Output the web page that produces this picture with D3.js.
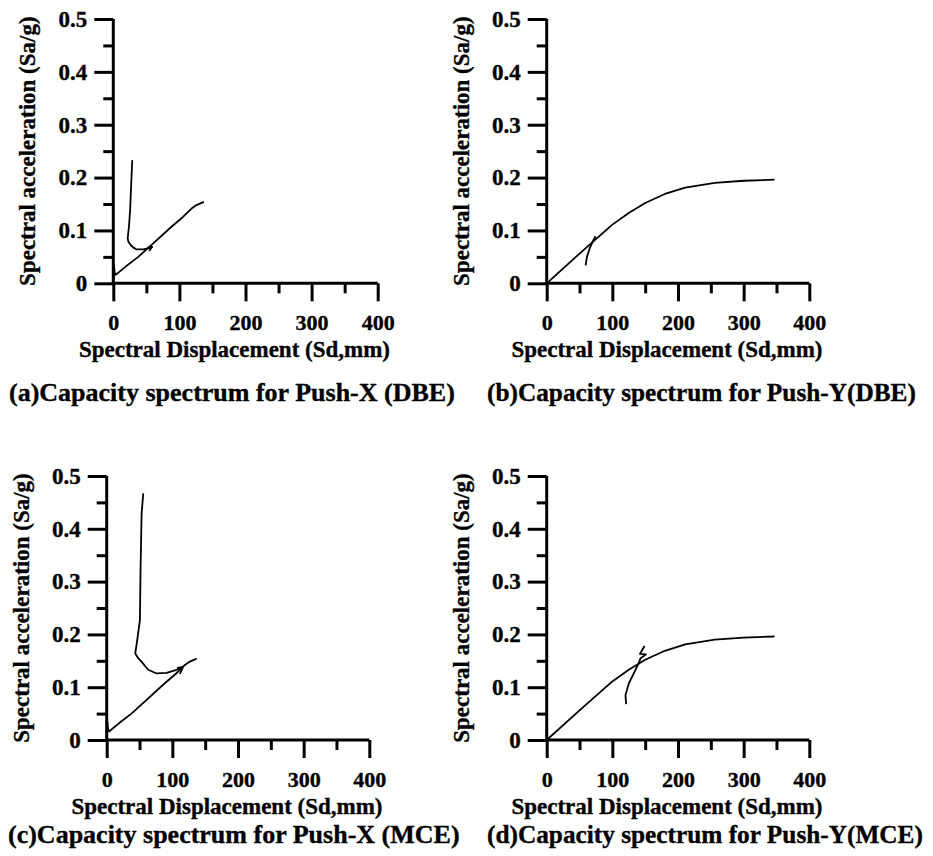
<!DOCTYPE html>
<html><head><meta charset="utf-8">
<script src="https://cdn.jsdelivr.net/npm/d3@7"></script>
<style>
html,body{margin:0;padding:0;background:#fff;}
svg text{font-family:"Liberation Serif","Times New Roman",serif;font-weight:bold;fill:#000;stroke:#000;stroke-width:0.35px;}
</style></head>
<body>
<svg id="chart" width="933" height="856"></svg>
<script>
// ---- data ----
const xTicks = [0, 100, 200, 300, 400];
const xMinor = [50, 150, 250, 350];
const yTicks = [0, 0.1, 0.2, 0.3, 0.4, 0.5];
const yMinor = [0.05, 0.15, 0.25, 0.35, 0.45];
const yTickLabels = ["0", "0.1", "0.2", "0.3", "0.4", "0.5"];

// capacity curve, Push-X (panels a, c)
const capXSd = [0, 1.2, 1.8, 3.6, 20, 37.7, 60, 88, 105, 118, 125.8, 137];
const capXSa = [0, 0.034, 0.022, 0.016, 0.033, 0.05, 0.075, 0.107, 0.125, 0.141, 0.148, 0.154];
// capacity curve, Push-Y (panels b, d)
const capYSd = [0, 50, 100, 125, 150, 180, 211, 256, 300, 347];
const capYSa = [0, 0.056, 0.111, 0.133, 0.152, 0.169, 0.181, 0.190, 0.194, 0.196];

// demand curves
const demASd = [28.7, 27.5, 26.7, 25.5, 23.7, 21.7, 23, 26.7, 30, 35.3, 45.2, 55.4, 58.8];
const demASa = [0.233, 0.2, 0.176, 0.14, 0.107, 0.085, 0.078, 0.072, 0.068, 0.064, 0.064, 0.067, 0.069];
const arrASd = [52, 58.8, 54.3];
const arrASa = [0.068, 0.069, 0.061];

const demBSd = [59.3, 61.3, 65.4, 70.4, 74.5];
const demBSa = [0.034, 0.05, 0.066, 0.080, 0.089];

const demCSd = [55.7, 53.2, 51.7, 50.6, 46.5, 43.5, 48, 53.2, 63.2, 76, 91.2, 106.4, 116.5];
const demCSa = [0.467, 0.429, 0.334, 0.227, 0.189, 0.164, 0.155, 0.148, 0.133, 0.126, 0.127, 0.133, 0.138];
const arrCSd = [107, 116.5, 111.5];
const arrCSa = [0.136, 0.139, 0.125];

const demDSd = [121, 120, 125, 133.8, 140, 143, 151, 142, 149];
const demDSa = [0.068, 0.085, 0.107, 0.129, 0.145, 0.155, 0.162, 0.163, 0.178];

const captions = [
  "(a)Capacity spectrum for Push-X (DBE)",
  "(b)Capacity spectrum for Push-Y(DBE)",
  "(c)Capacity spectrum for Push-X (MCE)",
  "(d)Capacity spectrum for Push-Y(MCE)"
];
const xTitle = "Spectral Displacement (Sd,mm)";
const yTitle = "Spectral acceleration (Sa/g)";

// ---- layout ----
const zip = (a, b) => a.map((v, i) => [v, b[i]]);
const panels = [
  {x0: 113.3, x1: 377.7, y0: 283.3, y1: 19, cap: captions[0], capX: 9, capY: 401, capF: 26,
   series: [zip(capXSd, capXSa), zip(demASd, demASa), zip(arrASd, arrASa)]},
  {x0: 546.7, x1: 809.3, y0: 283.3, y1: 19, cap: captions[1], capX: 487, capY: 401, capF: 25.3,
   series: [zip(capYSd, capYSa), zip(demBSd, demBSa)]},
  {x0: 106.7, x1: 369.3, y0: 740, y1: 476, cap: captions[2], capX: 8, capY: 843, capF: 26,
   series: [zip(capXSd, capXSa), zip(demCSd, demCSa), zip(arrCSd, arrCSa)]},
  {x0: 546.7, x1: 809.3, y0: 740, y1: 476, cap: captions[3], capX: 487, capY: 843, capF: 25.3,
   series: [zip(capYSd, capYSa), zip(demDSd, demDSa)]}
];

const svg = d3.select("#chart");

panels.forEach(p => {
  const x = d3.scaleLinear().domain([0, 400]).range([p.x0, p.x1]);
  const y = d3.scaleLinear().domain([0, 0.5]).range([p.y0, p.y1]);
  const g = svg.append("g");

  // x axis
  const xAx = g.append("g").attr("transform", `translate(0,${p.y0})`)
    .call(d3.axisBottom(x).tickValues(xTicks).tickSize(18).tickSizeOuter(0).tickPadding(10));
  xAx.select(".domain").attr("stroke-width", 3).attr("d", `M${p.x0},0H${p.x1}`);
  xAx.selectAll(".tick line").attr("stroke-width", 3);
  xAx.selectAll(".tick text").attr("font-size", 22).attr("dy", "0").attr("y", 47);
  g.append("g").attr("transform", `translate(0,${p.y0})`)
    .call(d3.axisBottom(x).tickValues(xMinor).tickSize(10).tickFormat(""))
    .call(s => s.select(".domain").remove())
    .selectAll(".tick line").attr("stroke-width", 3);

  // y axis
  const yAx = g.append("g").attr("transform", `translate(${p.x0},0)`)
    .call(d3.axisLeft(y).tickValues(yTicks).tickSize(19).tickSizeOuter(0).tickPadding(7)
      .tickFormat((d, i) => yTickLabels[i]));
  yAx.select(".domain").attr("stroke-width", 3).attr("d", `M0,${p.y0}V${p.y1}`);
  yAx.selectAll(".tick line").attr("stroke-width", 3);
  yAx.selectAll(".tick text").attr("font-size", 23);
  g.append("g").attr("transform", `translate(${p.x0},0)`)
    .call(d3.axisLeft(y).tickValues(yMinor).tickSize(10).tickFormat(""))
    .call(s => s.select(".domain").remove())
    .selectAll(".tick line").attr("stroke-width", 3);

  g.selectAll(".tick text").attr("fill", "#000");
  g.selectAll("g").attr("font-family", null).attr("font-size", null);

  // titles
  g.append("text").attr("x", (p.x0 + p.x1) / 2 - 11).attr("y", p.y0 + 73.5)
    .attr("text-anchor", "middle").attr("font-size", 23).text(xTitle);
  g.append("text").attr("transform", `translate(${p.x0 - 78},${(p.y0 + p.y1) / 2}) rotate(-90)`)
    .attr("text-anchor", "middle").attr("font-size", 23).text(yTitle);
  g.append("text").attr("x", p.capX).attr("y", p.capY).attr("font-size", p.capF).text(p.cap);

  // curves
  const line = d3.line().x(d => x(d[0])).y(d => y(d[1]));
  p.series.forEach(s => {
    g.append("path").attr("d", line(s)).attr("fill", "none")
      .attr("stroke", "#000").attr("stroke-width", 1.8).attr("stroke-linejoin", "round");
  });
});
</script>
</body></html>
